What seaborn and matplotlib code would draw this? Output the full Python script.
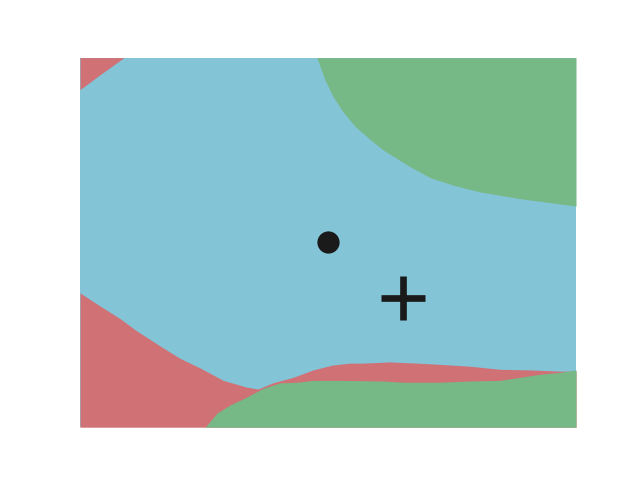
import numpy as np
import matplotlib
matplotlib.use("Agg")
import matplotlib.pyplot as plt
import seaborn as sns
from matplotlib.colors import to_rgb

# decision region boundaries, axes span x -4..4, y -3..3
topleft_x = [-4.00, -3.68, -3.29]
topleft_y = [2.48, 2.72, 3.00]

topright_x = [-0.18, -0.05, 0.08, 0.24, 0.44, 0.68, 0.89, 1.32, 1.65, 2.05, 2.45, 3.10, 4.00]
topright_y = [3.00, 2.64, 2.37, 2.12, 1.88, 1.67, 1.50, 1.23, 1.05, 0.92, 0.82, 0.71, 0.59]

lowred_x = [-4.00, -3.68, -3.35, -3.11, -2.71, -2.39, -2.06, -1.69, -1.31, -1.13, -0.89, -0.56,
            -0.24, 0.08, 0.35, 0.56, 1.00, 1.44, 1.81, 2.29, 2.77, 3.26, 3.74, 4.00]
lowred_y = [-0.82, -1.03, -1.24, -1.42, -1.68, -1.88, -2.04, -2.24, -2.35, -2.38, -2.28, -2.19,
            -2.07, -1.99, -1.96, -1.96, -1.94, -1.96, -1.98, -2.01, -2.06, -2.07, -2.09, -2.09]

lowgreen_x = [-1.98, -1.79, -1.58, -1.31, -1.05, -0.77, -0.50, -0.24, 0.19, 0.89, 1.21, 1.81,
              2.29, 2.77, 3.10, 3.42, 3.74, 4.00]
lowgreen_y = [-3.00, -2.77, -2.64, -2.51, -2.37, -2.28, -2.27, -2.24, -2.24, -2.25, -2.27, -2.27,
              -2.25, -2.24, -2.19, -2.14, -2.11, -2.07]

# marked points
dot_xy = (0.0, 0.0)
plus_xy = (1.21, -0.90)

sns.set_style("white")
deep = sns.color_palette("deep")


def faded(c, a=0.8):
    # same look as alpha=0.8 over white, but opaque
    r = np.array(to_rgb(c))
    return tuple(a * r + (1 - a))


red, green, cyan = faded(deep[3]), faded(deep[2]), faded(deep[9])

fig, ax = plt.subplots(figsize=(6.4, 4.8), dpi=100)
ax.set_facecolor(cyan)

ax.fill_between(topleft_x, topleft_y, 3, color=red, lw=0)
ax.fill_between(topright_x, topright_y, 3, color=green, lw=0)
ax.fill_between(lowred_x, lowred_y, -3, color=red, lw=0)
ax.fill_between(lowgreen_x, lowgreen_y, -3, color=green, lw=0)

ax.plot(*dot_xy, "o", ms=16, mew=0, color="#1a1a1a")
ax.plot(*plus_xy, "+", ms=31, mew=4.8, color="#1a1a1a")

ax.set_xlim(-4, 4)
ax.set_ylim(-3, 3)
ax.set_xticks([])
ax.set_yticks([])
sns.despine(ax=ax, left=True, bottom=True)

fig.savefig("out.png", dpi=100)
